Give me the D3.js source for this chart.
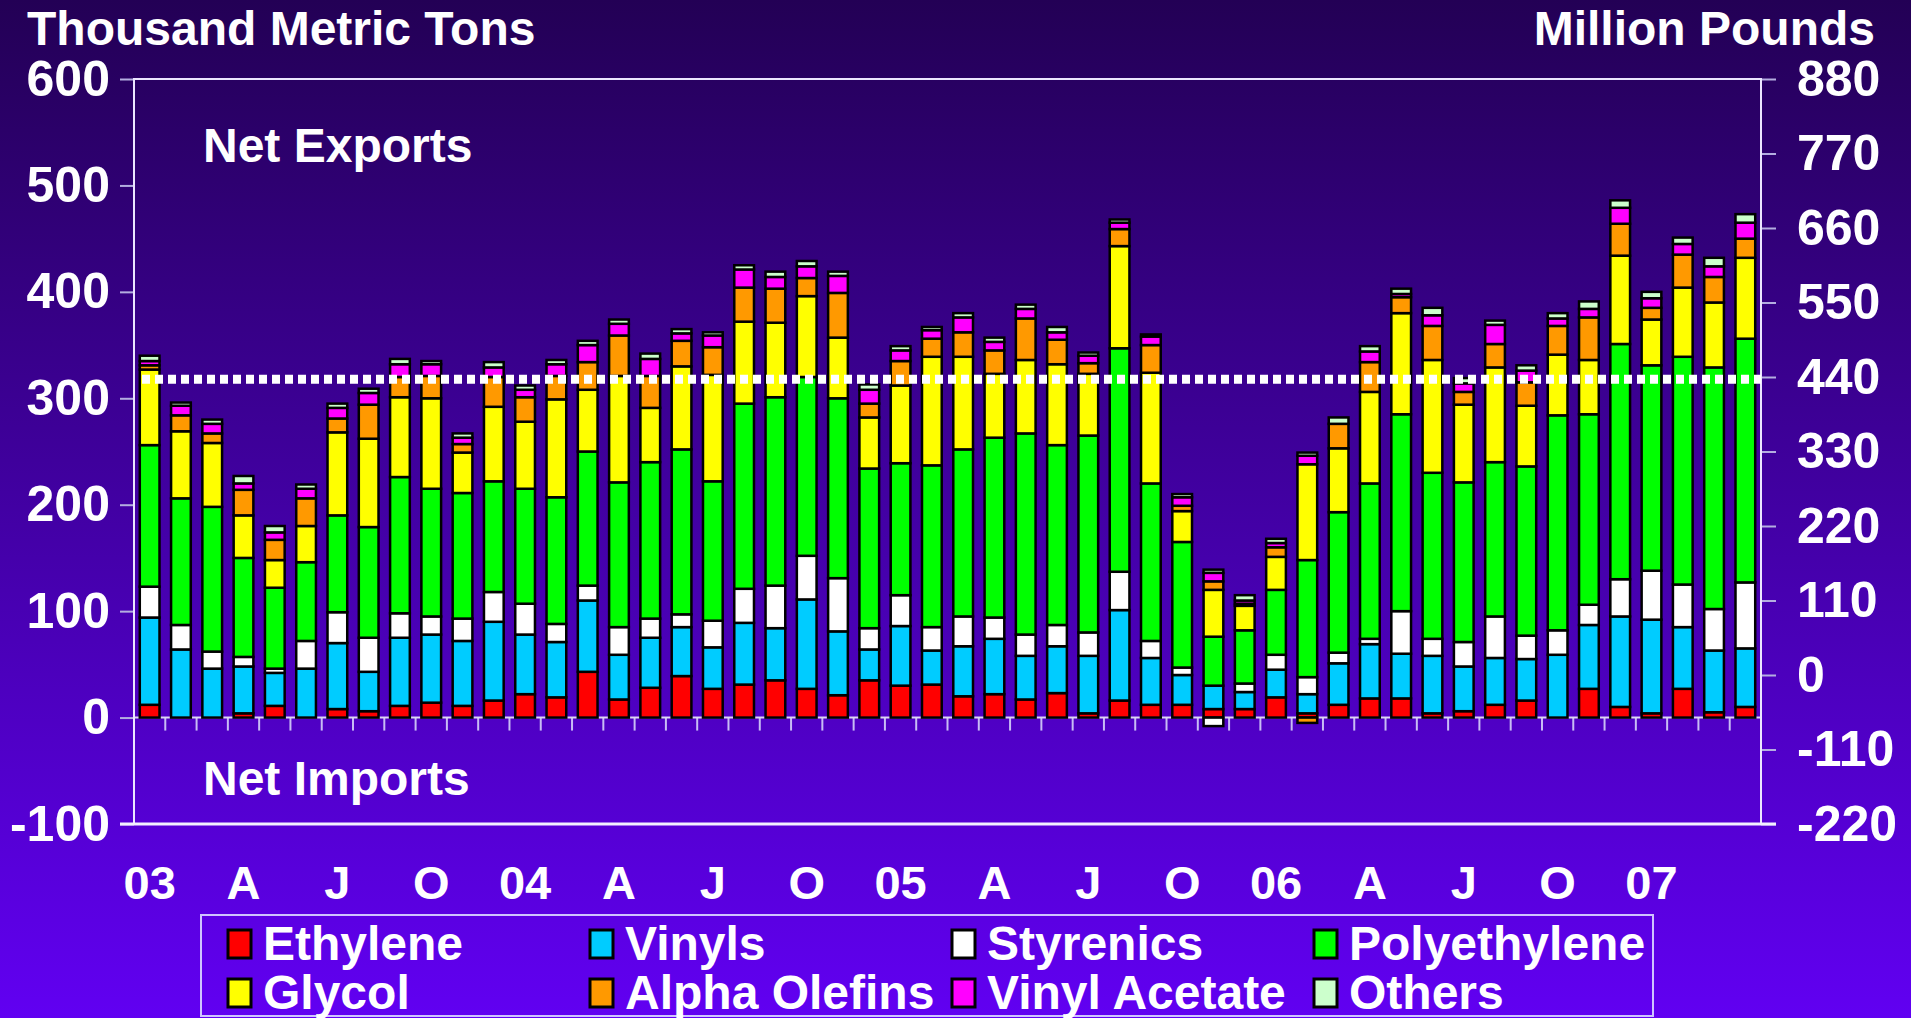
<!DOCTYPE html>
<html>
<head>
<meta charset="utf-8">
<script src="https://cdn.jsdelivr.net/npm/d3@7"></script>
<style>
    body { margin: 0; background: #3a0090; }
    svg text { font-family: "Liberation Sans", Arial, sans-serif; font-weight: bold; fill: #fff; }
</style>
</head>
<body>
<script>
const width = 1911;
const height = 1018;
const plot = { left: 134, right: 1761, top: 79, bottom: 824 };

// monthly, Jan 2003 .. Apr 2007 (thousand metric tons)
const months = [
    "2003-01", "2003-02", "2003-03", "2003-04", "2003-05", "2003-06", "2003-07", "2003-08", "2003-09", "2003-10", "2003-11", "2003-12",
    "2004-01", "2004-02", "2004-03", "2004-04", "2004-05", "2004-06", "2004-07", "2004-08", "2004-09", "2004-10", "2004-11", "2004-12",
    "2005-01", "2005-02", "2005-03", "2005-04", "2005-05", "2005-06", "2005-07", "2005-08", "2005-09", "2005-10", "2005-11", "2005-12",
    "2006-01", "2006-02", "2006-03", "2006-04", "2006-05", "2006-06", "2006-07", "2006-08", "2006-09", "2006-10", "2006-11", "2006-12",
    "2007-01", "2007-02", "2007-03", "2007-04"
];
const seriesNames = ["Ethylene", "Vinyls", "Styrenics", "Polyethylene", "Glycol", "Alpha Olefins", "Vinyl Acetate", "Others"];
const seriesColors = ["#ff0000", "#00ccff", "#ffffff", "#00ff00", "#ffff00", "#ff9900", "#ff00ff", "#ccffcc"];

const ethylene = [12, 0, 0, 4, 11, 0, 8, 6, 11, 14, 11, 16, 22, 19, 43, 17, 28, 39, 27, 31, 35, 27, 21, 35, 30, 31, 20, 22, 17, 23, 4, 16, 12, 12, 8, 8, 19, 4, 12, 18, 18, 4, 6, 12, 16, 0, 27, 10, 4, 27, 5, 10];
const vinyls = [82, 64, 46, 44, 31, 46, 62, 37, 64, 64, 61, 74, 56, 52, 67, 42, 47, 46, 39, 58, 49, 84, 60, 29, 56, 32, 47, 52, 41, 44, 54, 85, 44, 28, 22, 16, 26, 18, 39, 51, 42, 54, 42, 44, 39, 59, 60, 85, 88, 58, 58, 55];
const styrenics = [29, 23, 16, 9, 4, 26, 29, 32, 23, 17, 21, 28, 29, 17, 14, 26, 18, 12, 25, 32, 40, 41, 50, 20, 29, 22, 28, 20, 20, 20, 22, 36, 16, 7, -8, 8, 14, 16, 10, 5, 40, 16, 23, 39, 22, 23, 19, 35, 46, 40, 39, 62];
const polyethylene = [133, 119, 136, 93, 76, 74, 91, 104, 128, 120, 118, 104, 108, 119, 126, 136, 147, 155, 131, 174, 177, 168, 169, 150, 124, 152, 157, 169, 189, 169, 185, 210, 148, 118, 46, 50, 61, 110, 132, 146, 185, 156, 150, 145, 159, 202, 179, 221, 193, 214, 227, 229];
const glycol = [71, 63, 60, 40, 26, 34, 78, 83, 75, 85, 38, 70, 63, 92, 58, 100, 51, 78, 100, 77, 70, 76, 57, 48, 73, 102, 87, 60, 69, 76, 58, 96, 104, 29, 44, 23, 31, 90, 60, 86, 95, 106, 73, 89, 57, 57, 51, 83, 43, 65, 61, 76];
const alphaOlefins = [4, 15, 9, 24, 19, 26, 13, 32, 19, 21, 8, 28, 23, 22, 26, 38, 30, 24, 26, 32, 32, 17, 42, 13, 23, 17, 23, 22, 39, 23, 10, 16, 26, 5, 8, 2, 9, -5, 23, 28, 15, 32, 12, 22, 22, 27, 40, 30, 11, 31, 24, 18];
const vinylAcetate = [4, 9, 9, 6, 7, 9, 10, 11, 12, 11, 6, 9, 7, 11, 16, 11, 16, 7, 11, 17, 11, 11, 16, 13, 10, 8, 14, 8, 9, 7, 7, 6, 8, 8, 8, 3, 4, 8, 0, 10, 3, 10, 8, 18, 11, 7, 8, 15, 9, 10, 10, 15];
const others = [5, 3, 4, 7, 6, 4, 4, 4, 5, 3, 4, 5, 4, 4, 4, 4, 5, 4, 3, 4, 5, 5, 4, 5, 4, 3, 4, 4, 4, 5, 3, 3, 2, 3, 3, 5, 4, 3, 6, 5, 5, 7, 5, 4, 5, 5, 7, 7, 6, 6, 8, 8];

const dottedLevel = 318;

const xTickLabels = ["03", "A", "J", "O", "04", "A", "J", "O", "05", "A", "J", "O", "06", "A", "J", "O", "07"];
const leftTicks = [-100, 0, 100, 200, 300, 400, 500, 600];
const rightTicks = [-220, -110, 0, 110, 220, 330, 440, 550, 660, 770, 880];

const seriesValues = [ethylene, vinyls, styrenics, polyethylene, glycol, alphaOlefins, vinylAcetate, others];
const table = months.map((m, i) => {
    const row = { month: m };
    seriesNames.forEach((s, k) => (row[s] = seriesValues[k][i]));
    return row;
});

const color = d3.scaleOrdinal().domain(seriesNames).range(seriesColors);

const svg = d3.select("body").append("svg").attr("width", width).attr("height", height);

const grad = svg.append("defs").append("linearGradient")
    .attr("id", "bg").attr("x1", 0).attr("y1", 0).attr("x2", 0).attr("y2", 1);
grad.append("stop").attr("offset", "0%").attr("stop-color", "#230055");
grad.append("stop").attr("offset", "100%").attr("stop-color", "#6100f2");
svg.append("rect").attr("width", width).attr("height", height).attr("fill", "url(#bg)");

const x = d3.scaleBand()
    .domain(months)
    .range([plot.left, plot.right])
    .paddingInner(0.37)
    .paddingOuter(0.185);
const y = d3.scaleLinear().domain([-100, 600]).range([plot.bottom, plot.top]);
const y2 = d3.scaleLinear().domain([-220, 880]).range([plot.bottom, plot.top]);

// axes
const styleAxis = (size) => (g) => {
    g.select(".domain").remove();
    g.selectAll("line").attr("stroke", "#b4aee0").attr("stroke-width", 2);
    g.selectAll("text")
        .style("font-size", size + "px")
        .style("font-family", "'Liberation Sans', Arial, sans-serif")
        .style("font-weight", "bold")
        .style("fill", "#fff");
};

svg.append("g")
    .attr("transform", `translate(${plot.left},0)`)
    .call(d3.axisLeft(y).tickValues(leftTicks).tickSize(14).tickPadding(10).tickFormat((d) => String(d)))
    .call(styleAxis(50));

svg.append("g")
    .attr("transform", `translate(${plot.right},0)`)
    .call(d3.axisRight(y2).tickValues(rightTicks).tickSize(15).tickPadding(21).tickFormat((d) => String(d)))
    .call(styleAxis(50));

// x ticks between months, below the zero line
svg.append("g")
    .selectAll("line")
    .data(months.slice(1))
    .join("line")
    .attr("x1", (d) => x(d) - (x.step() * x.paddingInner()) / 2)
    .attr("x2", (d) => x(d) - (x.step() * x.paddingInner()) / 2)
    .attr("y1", y(0))
    .attr("y2", y(0) + 13)
    .attr("stroke", "#c8bdf5")
    .attr("stroke-width", 2);

svg.append("line")
    .attr("x1", plot.left).attr("x2", plot.right)
    .attr("y1", y(0)).attr("y2", y(0))
    .attr("stroke", "#ddd6f5").attr("stroke-width", 2);

// bars
const layers = d3.stack().keys(seriesNames).offset(d3.stackOffsetDiverging)(table);

svg.append("g")
    .selectAll("g")
    .data(layers)
    .join("g")
    .attr("fill", (d) => color(d.key))
    .selectAll("rect")
    .data((d) => d.filter((s) => s[1] !== s[0]))
    .join("rect")
    .attr("x", (d) => x(d.data.month))
    .attr("y", (d) => y(d[1]))
    .attr("width", x.bandwidth())
    .attr("height", (d) => y(d[0]) - y(d[1]))
    .attr("stroke", "#000")
    .attr("stroke-width", 2.5);

// frame
svg.append("rect")
    .attr("x", plot.left).attr("y", plot.top)
    .attr("width", plot.right - plot.left).attr("height", plot.bottom - plot.top)
    .attr("fill", "none").attr("stroke", "#ece6ff").attr("stroke-width", 2);
svg.append("line")
    .attr("x1", plot.left - 14).attr("x2", plot.right + 15)
    .attr("y1", plot.bottom).attr("y2", plot.bottom)
    .attr("stroke", "#f4f0ff").attr("stroke-width", 3);

// dotted reference line
svg.append("line")
    .attr("x1", plot.left + 8).attr("x2", plot.right)
    .attr("y1", y(dottedLevel)).attr("y2", y(dottedLevel))
    .attr("stroke", "#fff").attr("stroke-width", 9)
    .attr("stroke-dasharray", "8,5");

// month labels
svg.append("g")
    .selectAll("text")
    .data(xTickLabels)
    .join("text")
    .attr("x", (d, i) => x(months[i * 3]) + x.bandwidth() / 2)
    .attr("y", 899)
    .attr("text-anchor", "middle")
    .style("font-size", "47px")
    .text((d) => d);

// titles
svg.append("text").attr("x", 27).attr("y", 45).style("font-size", "48px").text("Thousand Metric Tons");
svg.append("text").attr("x", 1875).attr("y", 45).attr("text-anchor", "end").style("font-size", "48px").text("Million Pounds");
svg.append("text").attr("x", 203).attr("y", 162).style("font-size", "48px").text("Net Exports");
svg.append("text").attr("x", 203).attr("y", 795).style("font-size", "48px").text("Net Imports");

// legend
svg.append("rect")
    .attr("x", 201).attr("y", 915)
    .attr("width", 1452).attr("height", 101)
    .attr("fill", "none").attr("stroke", "#cfc4ff").attr("stroke-width", 2);

const legend = svg.append("g")
    .selectAll("g")
    .data(seriesNames)
    .join("g")
    .attr("transform", (d, i) => `translate(${228 + (i % 4) * 362}, ${930 + Math.floor(i / 4) * 49})`);

legend.append("rect")
    .attr("width", 23).attr("height", 28)
    .attr("fill", (d) => color(d))
    .attr("stroke", "#000").attr("stroke-width", 3);

legend.append("text")
    .attr("x", 35).attr("y", 30)
    .style("font-size", "48px")
    .text((d) => d);
</script>
</body>
</html>
